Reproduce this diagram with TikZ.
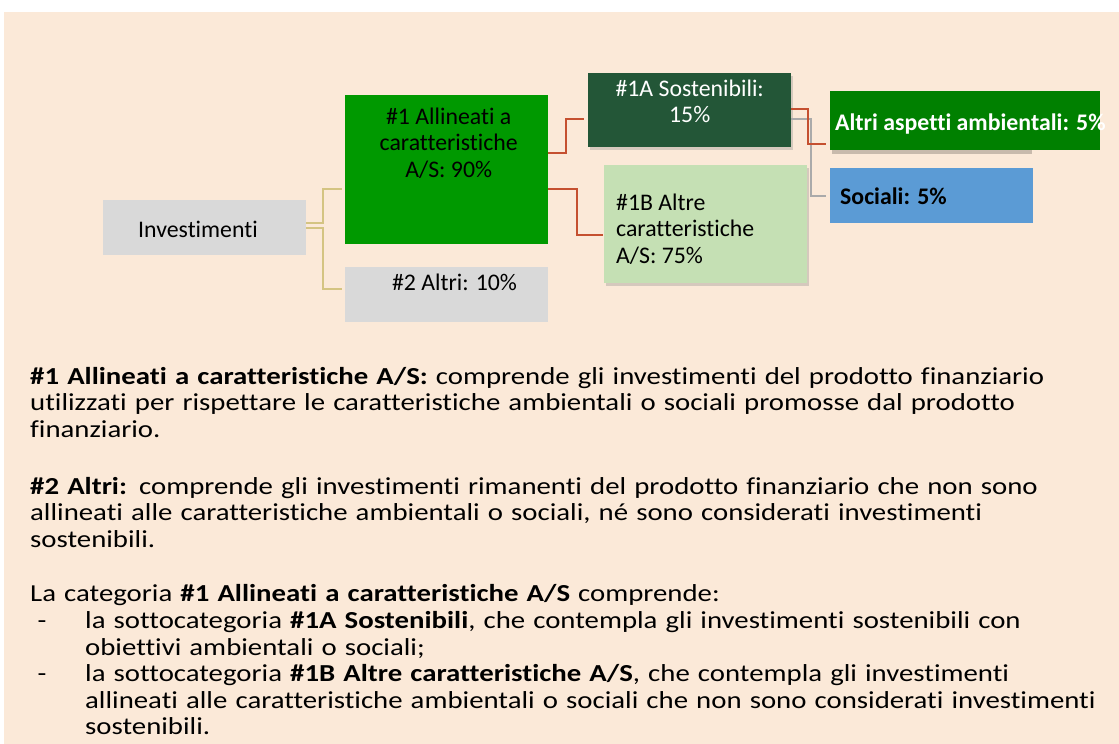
\documentclass[tikz,border=0pt]{standalone}
\usepackage{fontspec}
\setmainfont[Ligatures=NoCommon]{Carlito}
\newfontfamily\bodyfont[FakeStretch=1.18,Ligatures=NoCommon]{Carlito}
\usetikzlibrary{positioning,shadows}
\definecolor{beige}{RGB}{251,233,216}
\definecolor{boxgrey}{RGB}{217,217,217}
\definecolor{green1}{RGB}{0,153,0}
\definecolor{green1a}{RGB}{35,86,55}
\definecolor{green1b}{RGB}{197,224,180}
\definecolor{greenamb}{RGB}{0,128,0}
\definecolor{bluesoc}{RGB}{91,155,213}
\definecolor{tanc}{RGB}{212,196,130}
\definecolor{redc}{RGB}{197,80,48}
\definecolor{greyc}{RGB}{170,170,170}
\begin{document}
\begin{tikzpicture}[x=1pt,y=-1pt,
    box/.style={rectangle, inner sep=0pt, anchor=north west},
    shad/.style={drop shadow={shadow xshift=2pt, shadow yshift=-3pt, opacity=0.3}},
    lbl/.style={inner sep=0pt, font=\fontsize{23.8pt}{26.5pt}\selectfont},
    lblb/.style={inner sep=0pt, font=\fontsize{23.8pt}{26.5pt}\selectfont\bfseries},
    para/.style={inner sep=0pt, anchor=north west, text width=1080pt, align=left,
        font=\bodyfont\fontsize{24.4pt}{26.6pt}\selectfont},
    tanline/.style={draw=tanc, line width=2pt},
    redline/.style={draw=redc, line width=2pt},
    greyline/.style={draw=greyc, line width=2pt}]
    \useasboundingbox (0,0) rectangle (1119,744);
    \fill[white] (0,0) rectangle (1119,744);
    \fill[beige] (4,12) rectangle (1119,744);

    % boxes
    \node[box, fill=boxgrey, minimum width=203pt, minimum height=55pt] (inv) at (103,200) {};
    \node[box, fill=green1, minimum width=203pt, minimum height=149pt] (ns1) at (345,95) {};
    \node[box, fill=boxgrey, minimum width=203pt, minimum height=55pt] (ns2) at (345,267) {};
    \node[box, shad, fill=green1a, minimum width=203pt, minimum height=74pt] (ns1a) at (588,73) {};
    \node[box, shad, fill=green1b, minimum width=203pt, minimum height=118pt] (ns1b) at (604,165) {};
    \fill[black, opacity=0.2] (832,94) rectangle (1032,154);
    \node[box, fill=greenamb, minimum width=270pt, minimum height=59pt] (amb) at (830,91) {};
    \node[box, fill=bluesoc, minimum width=203pt, minimum height=55pt] (soc) at (830,168) {};

    % texts in the boxes
    \node[lbl, anchor=base] (inv-t) at (198,237) {Investimenti};
    \node[lbl, align=center, below=10.5pt of ns1.north, xshift=2pt] (ns1-t)
        {\strut\#1 Allineati a\\caratteristiche\\A/S: 90\%};
    \node[lbl, anchor=base] (ns2-t) at (454.5,290) {\#2 Altri: 10\%};
    \node[lbl, align=center, text=white, below=4.5pt of ns1a.north] (ns1a-t)
        {\strut\#1A Sostenibili:\\15\%};
    \node[lbl, align=left, below right=26.5pt and 12pt of ns1b.north west] (ns1b-t)
        {\strut\#1B Altre\\caratteristiche\\A/S: 75\%};
    \node[lblb, anchor=base west, text=white] (amb-t) at (835,130) {Altri aspetti ambientali: 5\%};
    \node[lblb, anchor=base west] (soc-t) at (840,204) {Sociali: 5\%};

    % connectors
    \draw[tanline] ([yshift=4.5pt]inv.east) -- ++(17,0) |- ([xshift=-3pt,yshift=-19.5pt]ns1.west);
    \draw[tanline] ([yshift=-0.5pt]inv.east) -- ++(17,0) |- ([xshift=-3pt,yshift=5.5pt]ns2.west);
    \draw[redline] ([yshift=16.5pt]ns1.east) -- ++(18,0) |- ([xshift=-4pt,yshift=-9pt]ns1a.west);
    \draw[redline] ([yshift=-19.5pt]ns1.east) -- ++(29,0) |- ([xshift=-1pt,yshift=-11pt]ns1b.west);
    \draw[greyline] ([yshift=-9pt]ns1a.east) -- ++(20,0) |- ([xshift=-4pt,yshift=-0.5pt]soc.west);
    \draw[redline] ([yshift=1pt]ns1a.east) -- ++(17,0) |- ([xshift=-4pt,yshift=-23.5pt]amb.west);

    % explanation
    \node[para] (p1) at (30,365.4) {\strut\textbf{\#1 Allineati a caratteristiche A/S:} comprende gli investimenti del prodotto finanziario\\
        utilizzati per rispettare le caratteristiche ambientali o sociali promosse dal prodotto\\
        finanziario.};
    \node[para] (p2) at (30,475.4) {\strut\textbf{\#2 Altri:} comprende gli investimenti rimanenti del prodotto finanziario che non sono\\
        allineati alle caratteristiche ambientali o sociali, né sono considerati investimenti\\
        sostenibili.};
    \node[para] (p3) at (30,583.1) {\strut La categoria \textbf{\#1 Allineati a caratteristiche A/S} comprende:\\
        \hspace*{7.5pt}\makebox[47.5pt][l]{-}la sottocategoria \textbf{\#1A Sostenibili}, che contempla gli investimenti sostenibili con\\
        \hspace*{55pt}obiettivi ambientali o sociali;\\
        \hspace*{7.5pt}\makebox[47.5pt][l]{-}la sottocategoria \textbf{\#1B Altre caratteristiche A/S}, che contempla gli investimenti\\
        \hspace*{55pt}allineati alle caratteristiche ambientali o sociali che non sono considerati investimenti\\
        \hspace*{55pt}sostenibili.};
\end{tikzpicture}
\end{document}
